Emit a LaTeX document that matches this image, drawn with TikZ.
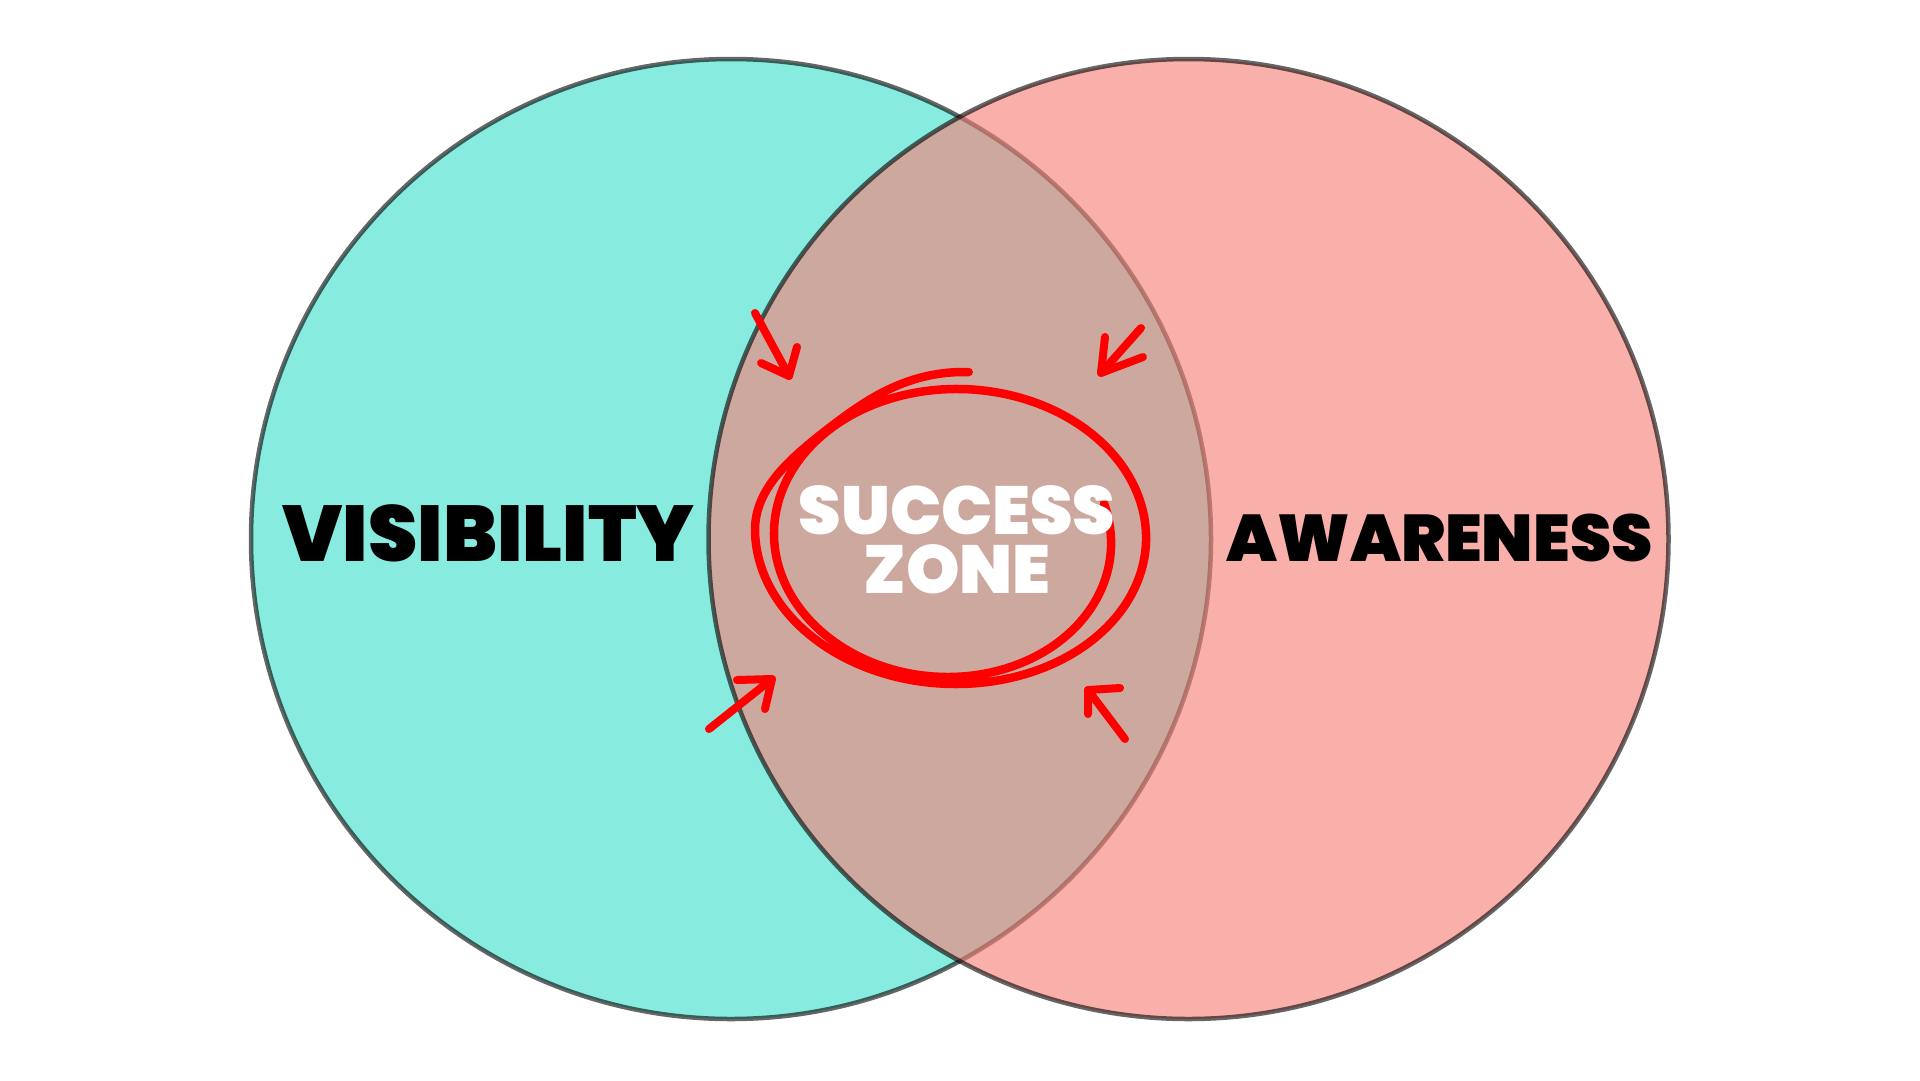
\documentclass[tikz,border=0pt]{standalone}
\usepackage{fontspec}
\IfFontExistsTF{Poppins Black}{\newfontfamily\pfont{Poppins Black}}{\newfontfamily\pfont{Poppins}[UprightFont=* Bold]}
\definecolor{tealfill}{RGB}{135,235,224}
\definecolor{pinkfill}{RGB}{247,128,118}
\definecolor{marker}{RGB}{255,0,0}
\begin{document}
\begin{tikzpicture}[x=1pt,y=-1pt,
  venn/.style={circle, minimum size=960pt, inner sep=0pt, outer sep=0pt, line width=4.5pt, draw=black, draw opacity=0.6},
  biglabel/.style={anchor=base, inner sep=0pt, text=black},
  zonelabel/.style={anchor=base, inner sep=0pt, text=white, text height=48pt, text depth=0pt, font=\pfont\fontsize{68}{68}\selectfont},
  scribble/.style={draw=marker, line width=8.5pt, line cap=round, line join=round},
  arrowstroke/.style={draw=marker, line width=8pt, line cap=round, line join=round}]
\path[use as bounding box] (0,0) rectangle (1920,1080);
\fill[white] (0,0) rectangle (1920,1080);

\node[venn, fill=tealfill] (vis) at (731,539) {};
\node[venn, fill=pinkfill, fill opacity=0.62] (awa) at (1188.5,539) {};

\node[biglabel, font=\pfont\fontsize{79}{79}\selectfont] (vislabel) at (488.5,561) {VISIBILITY};
\node[biglabel, font=\pfont\fontsize{66}{66}\selectfont] (awalabel) at (1439.5,561) {AWARENESS};

% hand-drawn spiral (two turns, slowly shrinking; first turn flattened at upper left)
\draw[scribble] plot[domain=-375:272, samples=300, variable=\t, smooth]
  ({955.25+0.02222*\t+(190.75+0.075*\t)*cos(\t)*(1-0.09*(\t>180)*sin(2*\t)*sin(2*\t))},
   {533.5-0.01389*\t+(148.75+0.03333*\t)*sin(\t)*(1-0.09*(\t>180)*sin(2*\t)*sin(2*\t))});

% arrows
\coordinate (tlS) at (755,313); \coordinate (tlT) at (789,376);
\coordinate (tlA) at (761,363); \coordinate (tlB) at (797,347);
\draw[arrowstroke] (tlS) -- (tlT);
\draw[arrowstroke] (tlA) -- (tlT) -- (tlB);

\coordinate (trS) at (1141,328); \coordinate (trT) at (1101,373);
\coordinate (trA) at (1105,337); \coordinate (trB) at (1143,357);
\draw[arrowstroke] (trS) -- (trT);
\draw[arrowstroke] (trA) -- (trT) -- (trB);

\coordinate (blS) at (709,729); \coordinate (blT) at (772,679);
\coordinate (blA) at (737,680); \coordinate (blB) at (765,709);
\draw[arrowstroke] (blS) -- (blT);
\draw[arrowstroke] (blA) -- (blT) -- (blB);

\coordinate (brS) at (1125,739); \coordinate (brT) at (1088,690);
\coordinate (brA) at (1120,688); \coordinate (brB) at (1088,714);
\draw[arrowstroke] (brS) -- (brT);
\draw[arrowstroke] (brA) -- (brT) -- (brB);

\node[zonelabel] (success) at (957,534) {SUCCESS};
\node[zonelabel] (zone) at (957,593) {ZONE};
\end{tikzpicture}
\end{document}
